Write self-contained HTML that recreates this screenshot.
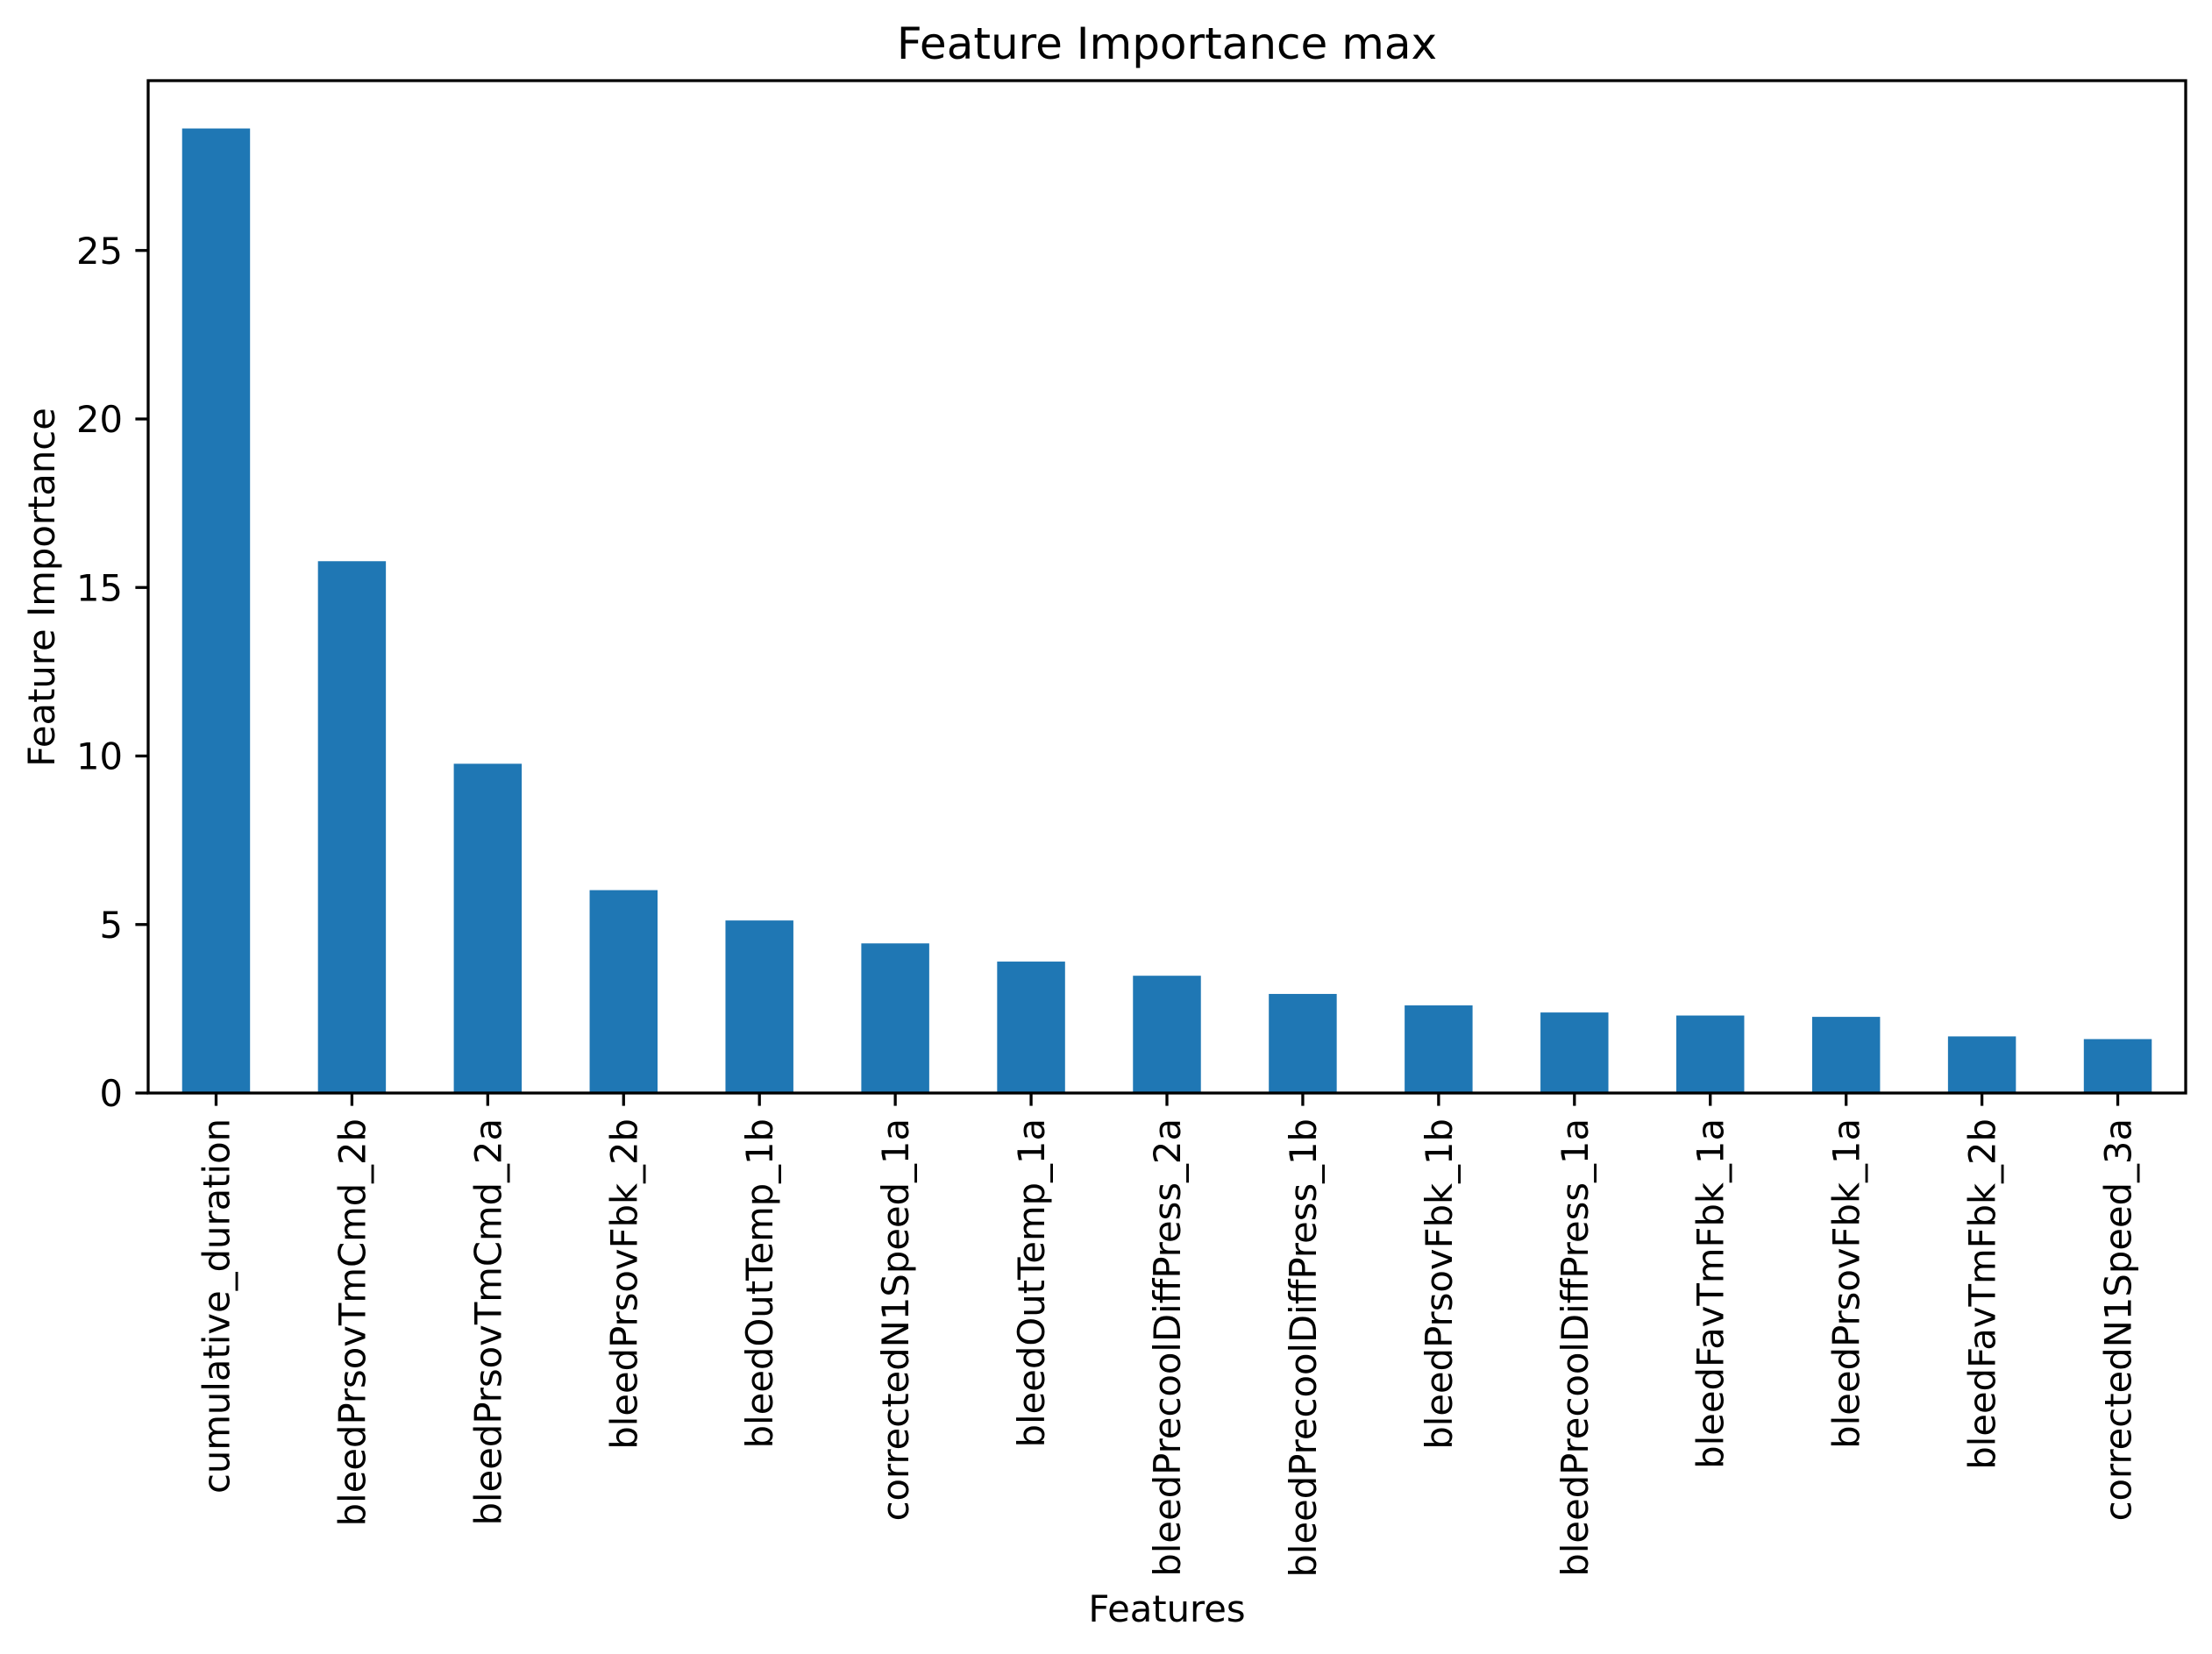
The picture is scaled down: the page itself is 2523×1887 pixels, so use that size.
<!DOCTYPE html>
<html><head><meta charset="utf-8"><style>
html,body{margin:0;padding:0;background:#fff;}
svg{display:block;font-family:"DejaVu Sans","Liberation Sans",sans-serif;}
</style></head><body>
<svg id="chart" width="2523" height="1887" viewBox="0 0 2523 1887" xmlns="http://www.w3.org/2000/svg">
<rect width="2523" height="1887" fill="#fff"/>
<g id="bars"></g>
<g id="axes"></g>
</svg>
<script>
const categories = ["cumulative_duration","bleedPrsovTmCmd_2b","bleedPrsovTmCmd_2a","bleedPrsovFbk_2b","bleedOutTemp_1b","correctedN1Speed_1a","bleedOutTemp_1a","bleedPrecoolDiffPress_2a","bleedPrecoolDiffPress_1b","bleedPrsovFbk_1b","bleedPrecoolDiffPress_1a","bleedFavTmFbk_1a","bleedPrsovFbk_1a","bleedFavTmFbk_2b","correctedN1Speed_3a"];
const values = [28.62, 15.78, 9.77, 6.02, 5.12, 4.44, 3.9, 3.48, 2.94, 2.6, 2.39, 2.3, 2.26, 1.68, 1.6];
const yTicks = [0, 5, 10, 15, 20, 25];

const NS = "http://www.w3.org/2000/svg";
const L = 169, R = 2493, T = 92, B = 1247;
const FS = 41.7;
const yMax = (B - T) / 38.45;
function yScale(v){ return B - (v / yMax) * (B - T); }
const step = (R - L) / categories.length;
function xScale(i){ return L + step * (i + 0.5); }
function mk(tag, attrs, parent){ const e = document.createElementNS(NS, tag); for (const k in attrs) e.setAttribute(k, attrs[k]); parent.appendChild(e); return e; }

const bars = document.getElementById('bars');
const axes = document.getElementById('axes');
const svg = document.getElementById('chart');

values.forEach((v, i) => {
  const r = mk('rect', {x: xScale(i) - step * 0.25, y: yScale(v), width: step * 0.5, height: B - yScale(v), fill: '#1f77b4'}, bars);
  
  
});

const frame = mk('rect', {x: L, y: T, width: R - L, height: B - T, fill: 'none', stroke: '#000', 'stroke-width': 3.3}, axes);



yTicks.forEach(t => {
  const y = yScale(t);
  const tk = mk('line', {x1: L - 14.6, x2: L, y1: y, y2: y, stroke: '#000', 'stroke-width': 3.3}, axes);
  
  
  const tx = mk('text', {x: L - 29, y: y + 15, 'text-anchor': 'end', 'font-size': FS, fill: '#000'}, axes);
  tx.textContent = t;
  
  
});

categories.forEach((c, i) => {
  const x = xScale(i);
  const tk = mk('line', {x1: x, x2: x, y1: B, y2: B + 14.6, stroke: '#000', 'stroke-width': 3.3}, axes);
  
  
  const tx = mk('text', {x: 0, y: 0, 'text-anchor': 'end', 'font-size': FS, fill: '#000', transform: 'translate(' + (x + 15) + ',' + (B + 29) + ') rotate(-90)'}, axes);
  tx.textContent = c;
  
  
});

const title = mk('text', {x: (L + R) / 2, y: 67, 'text-anchor': 'middle', 'font-size': 50, fill: '#000'}, svg);
title.textContent = 'Feature Importance max';



const xl = mk('text', {x: (L + R) / 2, y: 1850, 'text-anchor': 'middle', 'font-size': FS, fill: '#000'}, svg);
xl.textContent = 'Features';



const yl = mk('text', {x: 0, y: 0, 'text-anchor': 'middle', 'font-size': FS, fill: '#000', transform: 'translate(62,670) rotate(-90)'}, svg);
yl.textContent = 'Feature Importance';


</script>
</body></html>
